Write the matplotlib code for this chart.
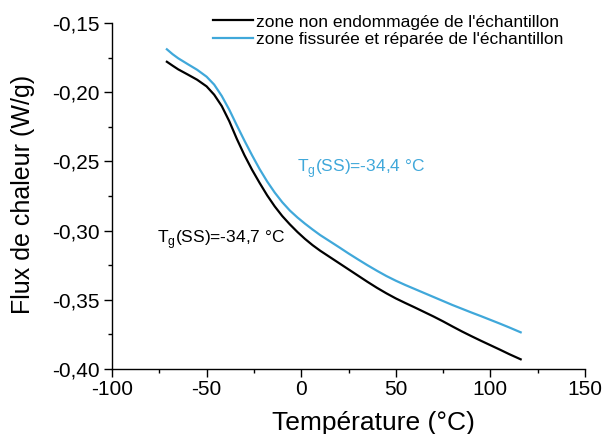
import matplotlib
matplotlib.use("Agg")
import matplotlib.pyplot as plt
from matplotlib.ticker import MultipleLocator, FuncFormatter

plt.rcParams['font.family'] = ['Liberation Sans', 'DejaVu Sans']

# Data
temp_black = [-71, -68, -65, -60, -55, -50, -46, -42, -38, -34, -30, -26, -22, -18, -14, -10, -6, -2, 2, 6,
              10, 15, 20, 25, 30, 35, 40, 45, 50, 55, 60, 65, 70, 75, 80, 85, 90, 95, 100, 105, 110, 116]
flux_black = [-0.1780, -0.1808, -0.1835, -0.1872, -0.1910, -0.1958, -0.2018, -0.2100, -0.2210, -0.2338,
              -0.2455, -0.2560, -0.2655, -0.2745, -0.2825, -0.2895, -0.2955, -0.3010, -0.3060, -0.3105,
              -0.3145, -0.3190, -0.3235, -0.3280, -0.3325, -0.3370, -0.3413, -0.3453, -0.3490, -0.3523,
              -0.3555, -0.3588, -0.3621, -0.3656, -0.3693, -0.3729, -0.3763, -0.3796, -0.3828, -0.3860,
              -0.3893, -0.3930]

temp_blue = [-71, -68, -65, -60, -55, -50, -46, -42, -38, -34, -30, -26, -22, -18, -14, -10, -6, -2, 2, 6,
             10, 15, 20, 25, 30, 35, 40, 45, 50, 55, 60, 65, 70, 75, 80, 85, 90, 95, 100, 105, 110, 116]
flux_blue = [-0.1690, -0.1725, -0.1755, -0.1797, -0.1838, -0.1888, -0.1945, -0.2027, -0.2127, -0.2240,
             -0.2350, -0.2455, -0.2555, -0.2645, -0.2725, -0.2795, -0.2855, -0.2905, -0.2950, -0.2992,
             -0.3032, -0.3076, -0.3120, -0.3165, -0.3208, -0.3250, -0.3290, -0.3328, -0.3362, -0.3393,
             -0.3422, -0.3451, -0.3480, -0.3509, -0.3538, -0.3565, -0.3592, -0.3618, -0.3645, -0.3672,
             -0.3700, -0.3735]

label_black = "zone non endommagée de l'échantillon"
label_blue = "zone fissurée et réparée de l'échantillon"
annot_black = r"T$_\mathregular{g}$(SS)=-34,7 °C"
annot_blue = r"T$_\mathregular{g}$(SS)=-34,4 °C"

BLUE = "#40a8da"

fig = plt.figure(figsize=(6.05, 4.34), dpi=100)
ax = fig.add_axes([112/605, 1-369/434, (585-112)/605, (369-23)/434])

ax.plot(temp_black, flux_black, color="black", lw=1.6, label=label_black)
ax.plot(temp_blue, flux_blue, color=BLUE, lw=1.6, label=label_blue)

ax.set_xlim(-100, 150)
ax.set_ylim(-0.40, -0.15)
ax.xaxis.set_major_locator(MultipleLocator(50))
ax.xaxis.set_minor_locator(MultipleLocator(25))
ax.yaxis.set_major_locator(MultipleLocator(0.05))
ax.yaxis.set_minor_locator(MultipleLocator(0.025))
ax.yaxis.set_major_formatter(FuncFormatter(lambda v, p: f"{v:.2f}".replace(".", ",")))
ax.xaxis.set_major_formatter(FuncFormatter(lambda v, p: f"{v:.0f}"))

for s in ["top", "right"]:
    ax.spines[s].set_visible(False)
for s in ["left", "bottom"]:
    ax.spines[s].set_linewidth(1.0)

ax.tick_params(which="major", direction="out", length=5.8, width=1, labelsize=15)
ax.tick_params(axis="x", which="major", pad=2)
ax.tick_params(axis="y", which="major", pad=3)
ax.tick_params(which="minor", direction="out", length=3, width=1)

ax.set_xlabel("Température (°C)", fontsize=19)
ax.set_ylabel("Flux de chaleur (W/g)", fontsize=18)
ax.xaxis.set_label_coords(0.552, -0.122)
ax.yaxis.set_label_coords(-0.163, 0.504)

ax.text(-76.2, -0.309, annot_black, color="black", fontsize=12.5, ha="left", va="baseline")
ax.text(-2.2, -0.2577, annot_blue, color=BLUE, fontsize=12.5, ha="left", va="baseline")

leg = ax.legend(loc="upper left", bbox_to_anchor=((213-112)/473, 1.025), frameon=False, fontsize=12.5,
                handlelength=2.3, handletextpad=0.17, labelspacing=0.12, borderaxespad=0, borderpad=0)

fig.savefig("out.png", dpi=100)
